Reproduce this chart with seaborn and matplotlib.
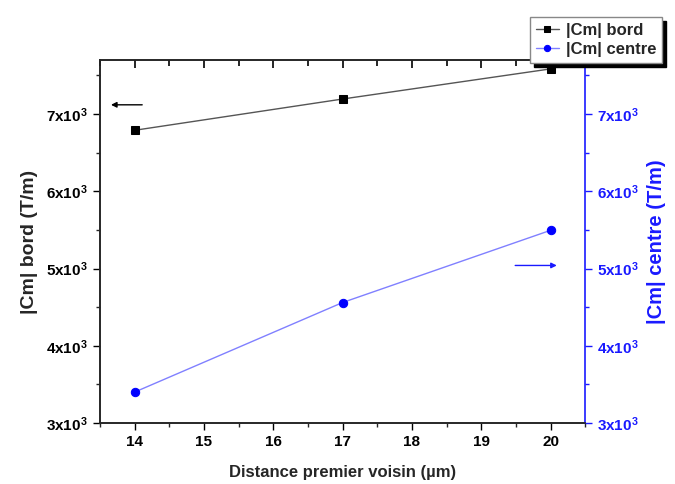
import numpy as np
import pandas as pd
import matplotlib
matplotlib.use("Agg")
import matplotlib.pyplot as plt
from matplotlib.ticker import MultipleLocator, FuncFormatter
import seaborn as sns

# Data
distance = [14, 17, 20]
cm_bord = [6790, 7195, 7585]
cm_centre = [3400, 4560, 5495]
x_ticks = [14, 15, 16, 17, 18, 19, 20]
y_ticks = [3000, 4000, 5000, 6000, 7000]

sns.set_style("ticks")
plt.rcParams["font.family"] = ["Liberation Sans", "DejaVu Sans"]
plt.rcParams["font.weight"] = "bold"
plt.rcParams["mathtext.fontset"] = "custom"
plt.rcParams["mathtext.rm"] = "Liberation Sans:bold"
plt.rcParams["mathtext.default"] = "rm"

df = pd.DataFrame({"distance": distance, "bord": cm_bord, "centre": cm_centre})

fig = plt.figure(figsize=(6.75, 4.84), dpi=100)
ax = fig.add_axes([0.148, 0.126, 0.719, 0.750])
ax2 = ax.twinx()

sns.lineplot(data=df, x="distance", y="bord", ax=ax, color="#555555", lw=1,
             marker="s", markersize=6, markerfacecolor="black",
             markeredgecolor="black", label="|Cm| bord", legend=False)
sns.lineplot(data=df, x="distance", y="centre", ax=ax2, color="#8080ff", lw=1,
             marker="o", markersize=6, markerfacecolor="#0000ff",
             markeredgecolor="#0000ff", label="|Cm| centre", legend=False)

fmt = FuncFormatter(lambda v, p: f"{v/1000:.0f}x10$^{{3}}$")
for a in (ax, ax2):
    a.set_xlim(13.5, 20.5)
    a.set_ylim(3000, 7700)
    a.set_yticks(y_ticks)
    a.yaxis.set_major_formatter(fmt)
    a.yaxis.set_minor_locator(MultipleLocator(500))
ax2.set_xlabel("")

ax.set_xticks(x_ticks)
ax.xaxis.set_minor_locator(MultipleLocator(0.5))
ax.tick_params(axis="both", which="major", direction="out", length=5, width=1,
               labelsize=11, colors="black")
ax.tick_params(axis="both", which="minor", direction="out", length=3, width=1)
for lab in ax.get_xticklabels() + ax.get_yticklabels():
    lab.set_fontweight("bold")

blue = "#1a1aff"
ax2.tick_params(axis="y", which="both", colors=blue, direction="out", width=1)
ax2.tick_params(axis="y", which="major", length=5, labelsize=11)
ax2.tick_params(axis="y", which="minor", length=3)
for lab in ax2.get_yticklabels():
    lab.set_fontweight("bold")
for a in (ax, ax2):
    for s in a.spines.values():
        s.set_linewidth(1.2)
ax2.spines["right"].set_color(blue)
ax.spines["right"].set_visible(False)

ax.set_xlabel("Distance premier voisin (µm)", fontsize=12, fontweight="bold", labelpad=12)
ax.set_ylabel("|Cm| bord (T/m)", fontsize=14, fontweight="bold", labelpad=6)
ax2.set_ylabel("|Cm| centre (T/m)", fontsize=14.5, fontweight="bold", color=blue, labelpad=6)

# direction arrows
ax.annotate("", xy=(13.62, 7120), xytext=(14.15, 7120),
            arrowprops=dict(arrowstyle="-|>", color="black", lw=1, mutation_scale=8))
ax2.annotate("", xy=(20.13, 5040), xytext=(19.45, 5040),
             arrowprops=dict(arrowstyle="-|>", color=blue, lw=1, mutation_scale=8))

h1, l1 = ax.get_legend_handles_labels()
h2, l2 = ax2.get_legend_handles_labels()
leg = fig.legend(h1 + h2, l1 + l2, loc="upper right", bbox_to_anchor=(0.993, 0.982),
                 fancybox=False, edgecolor="#888888", framealpha=1, handlelength=1.4,
                 handletextpad=0.4, borderpad=0.35, labelspacing=0.25, markerscale=0.75,
                 prop={"size": 12, "weight": "bold"},
                 shadow={"color": "black", "alpha": 1, "ox": 3, "oy": -3})

# inward ticks along the top spine, via the twin's shared x axis
ax2.xaxis.set_visible(True)
ax2.tick_params(axis="x", which="major", bottom=False, labelbottom=False,
                top=True, labeltop=False, direction="in", width=1.2, length=6,
                color="black")
ax2.tick_params(axis="x", which="minor", bottom=False, labelbottom=False,
                top=True, labeltop=False, direction="in", width=1.2, length=4,
                color="black")

fig.savefig("out.png", dpi=100)
